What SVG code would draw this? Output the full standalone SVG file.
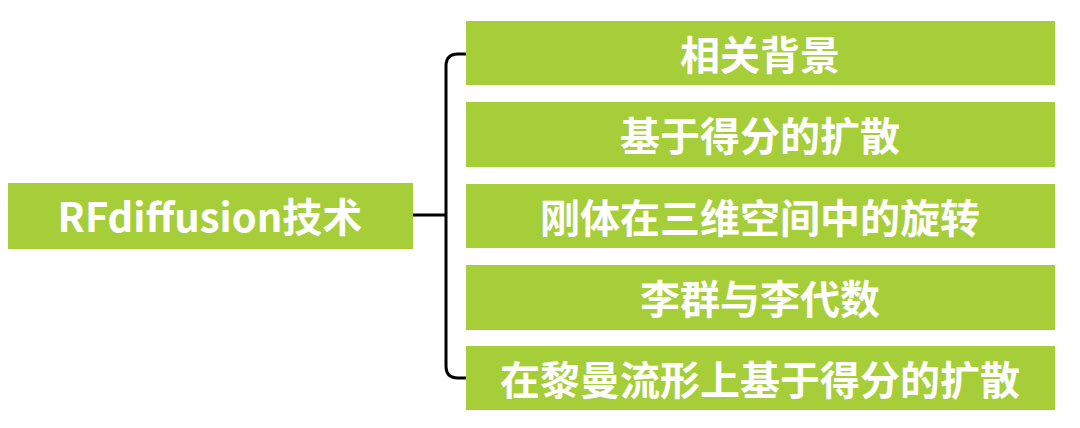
<svg xmlns="http://www.w3.org/2000/svg" width="1080" height="428" viewBox="0 0 1080 428">
<style>
.b{fill:#A6CE39}
.t{fill:#fff;font-family:"Noto Sans CJK SC","Noto Sans",sans-serif;font-weight:bold;font-size:40px;text-anchor:middle;dominant-baseline:central}
.c{fill:none;stroke:#000;stroke-width:3}
</style>
<rect width="1080" height="428" fill="#fff"/>
<g id="connectors">
<path class="c" d="M413 215H446"/>
<path class="c" d="M466 54H458Q446 54 446 66V366Q446 378 458 378H466"/>
</g>
<g id="root"><rect class="b" x="8" y="183" width="405" height="66"/><text class="t" x="210" y="215">RFdiffusion技术</text></g>
<g id="n1"><rect class="b" x="466" y="21" width="589" height="64"/><text class="t" x="760" y="53">相关背景</text></g>
<g id="n2"><rect class="b" x="466" y="102" width="589" height="65"/><text class="t" x="760" y="134">基于得分的扩散</text></g>
<g id="n3"><rect class="b" x="466" y="184" width="589" height="64"/><text class="t" x="760" y="216">刚体在三维空间中的旋转</text></g>
<g id="n4"><rect class="b" x="466" y="265" width="589" height="65"/><text class="t" x="760" y="297">李群与李代数</text></g>
<g id="n5"><rect class="b" x="466" y="346" width="589" height="64"/><text class="t" x="760" y="378">在黎曼流形上基于得分的扩散</text></g>
</svg>
